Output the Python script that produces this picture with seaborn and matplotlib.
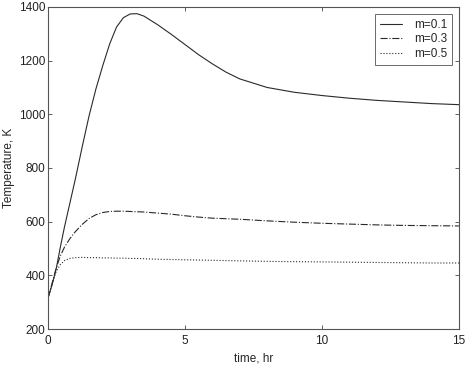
import matplotlib
matplotlib.use("Agg")
import matplotlib.pyplot as plt
import seaborn as sns
import pandas as pd

time_hr = [0, 0.15, 0.3, 0.45, 0.6, 0.8, 1.0, 1.25, 1.5, 1.75, 2.0, 2.25, 2.5, 2.75,
           3.0, 3.25, 3.5, 4.0, 4.5, 5.0, 5.5, 6.0, 6.5, 7.0, 8.0, 9.0, 10.0, 11.0,
           12.0, 13.0, 14.0, 15.0]
temp_m01 = [315, 365, 425, 505, 580, 670, 760, 880, 995, 1095, 1182, 1262, 1325, 1360,
            1374, 1375, 1366, 1334, 1298, 1260, 1222, 1188, 1157, 1132, 1100, 1082, 1070, 1060,
            1052, 1046, 1040, 1036]
temp_m03 = [315, 370, 428, 472, 505, 537, 563, 590, 612, 626, 634, 638, 639, 639,
            638, 637, 636, 632, 628, 622, 617, 613, 611, 609, 603, 598, 594, 591,
            588, 586, 585, 584]
temp_m05 = [315, 370, 415, 440, 455, 463, 466, 467, 466, 466, 465, 465, 464, 464,
            463, 463, 462, 460, 459, 458, 457, 456, 455, 454, 452, 451, 450, 449,
            448, 447, 446, 446]
labels = ["m=0.1", "m=0.3", "m=0.5"]
x_ticks = [0, 5, 10, 15]
y_ticks = [200, 400, 600, 800, 1000, 1200, 1400]

sns.set_style("white")
plt.rcParams['font.family'] = ['Liberation Sans', 'DejaVu Sans']

fig = plt.figure(figsize=(4.68, 3.67), dpi=100)
ax = fig.add_axes([0.1026, 0.1035, 0.878, 0.8775])

series = [temp_m01, temp_m03, temp_m05]
styles = ['-', '-.', ':']
for vals, lab, ls in zip(series, labels, styles):
    df = pd.DataFrame({"time": time_hr, "T": vals})
    sns.lineplot(data=df, x="time", y="T", ax=ax, color="#2a2a2a", linewidth=0.8,
                 linestyle=ls, label=lab)

ax.set_xlim(0, 15)
ax.set_ylim(200, 1400)
ax.set_xticks(x_ticks)
ax.set_yticks(y_ticks)
ax.set_xticklabels([str(v) for v in x_ticks], fontsize=8.5)
ax.set_yticklabels([str(v) for v in y_ticks], fontsize=8.5)
ax.set_xlabel("time, hr", fontsize=8.5, labelpad=4)
ax.set_ylabel("Temperature, K", fontsize=8.5, labelpad=3)
ax.tick_params(axis='x', pad=4)
ax.tick_params(axis='y', pad=2)
ax.tick_params(direction='in', length=3, width=0.6, top=True, right=True,
               bottom=True, left=True, colors="#444444", labelcolor="#222222")
for s in ax.spines.values():
    s.set_color("#555555")
    s.set_linewidth(0.8)

leg = ax.legend(loc='upper right', fontsize=8.5, frameon=True, fancybox=False,
                edgecolor="#444444", handlelength=1.9, borderpad=0.4,
                labelspacing=0.22, handletextpad=1.0, borderaxespad=0.6)
leg.get_frame().set_linewidth(0.7)

fig.savefig("out.png", dpi=100)
